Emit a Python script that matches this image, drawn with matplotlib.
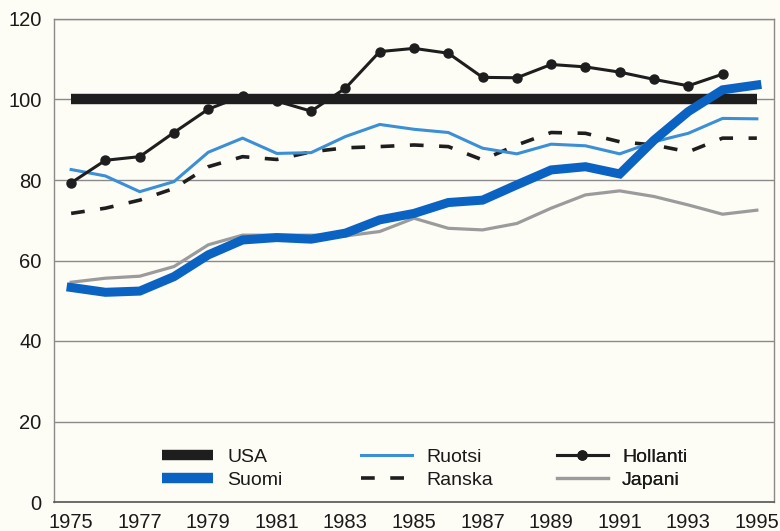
import matplotlib
matplotlib.use("Agg")
import matplotlib.pyplot as plt
from matplotlib.lines import Line2D

years = list(range(1975, 1996))
usa = [100] * 21
suomi = [53.3, 52.1, 52.4, 56.0, 61.4, 65.1, 65.7, 65.3, 66.8, 70.1, 71.7,
         74.4, 75.0, 78.8, 82.5, 83.3, 81.5, 89.9, 97.0, 102.4, 103.6]
ruotsi = [82.6, 81.0, 77.1, 79.6, 86.9, 90.4, 86.6, 86.8, 90.8, 93.8, 92.6,
          91.8, 87.9, 86.5, 88.9, 88.5, 86.5, 89.5, 91.6, 95.3, 95.2]
ranska = [71.7, 73.0, 75.0, 77.9, 83.3, 85.8, 85.1, 87.0, 88.0, 88.3, 88.7,
          88.3, 85.0, 88.7, 91.8, 91.6, 89.5, 88.7, 87.0, 90.4, 90.4]
hollanti_years = list(range(1975, 1995))
hollanti = [79.3, 84.9, 85.8, 91.8, 97.6, 100.9, 99.6, 97.1, 102.8, 111.9, 112.7,
            111.5, 105.5, 105.4, 108.7, 108.1, 106.8, 105.0, 103.4, 106.3]
japani = [54.6, 55.6, 56.1, 58.5, 63.9, 66.3, 66.3, 66.3, 66.1, 67.2, 70.5,
          68.0, 67.6, 69.2, 73.0, 76.3, 77.3, 75.9, 73.8, 71.5, 72.5]
xticks = list(range(1975, 1996, 2))
yticks = [0, 20, 40, 60, 80, 100, 120]

plt.rcParams['font.family'] = ['Liberation Sans', 'DejaVu Sans']
bg = '#fdfcf5'
fig = plt.figure(figsize=(7.8, 5.31), dpi=100, facecolor=bg)
ax = fig.add_axes([54/780, 1-502/531, 720/780, 483/531])
ax.set_facecolor(bg)

c_usa = '#1e1e1e'
c_suomi = '#0a62c2'
c_ruotsi = '#3a8fd6'
c_black = '#1e1e1e'
c_gray = '#9b9b9b'

ax.plot(years, japani, color=c_gray, lw=2.3, zorder=3)
ax.plot(years, usa, color=c_usa, lw=7.5, solid_capstyle='butt', zorder=4)
ax.plot(years, ranska, color=c_black, lw=2.6, dashes=(3.8, 4.3), zorder=5)
ax.plot(years, ruotsi, color=c_ruotsi, lw=2.2, zorder=5)
ax.plot(years, suomi, color=c_suomi, lw=6.5, solid_joinstyle='miter', zorder=6)
ax.plot(hollanti_years, hollanti, color=c_black, lw=2.2, marker='o', ms=6.5, zorder=7)

ax.set_xlim(1974.5, 1995.5)
ax.set_ylim(0, 120)
ax.set_xticks(xticks)
ax.set_yticks(yticks)
ax.tick_params(length=0, labelsize=14.5, colors='#1a1a1a')
ax.tick_params(axis='x', pad=8)
ax.tick_params(axis='y', pad=9)
ax.grid(axis='y', color='#8a8a8a', lw=1.0)
ax.set_axisbelow(True)
for s in ['left', 'top', 'right']:
    ax.spines[s].set_color('#8a8a8a')
    ax.spines[s].set_linewidth(1.0)
ax.spines['bottom'].set_color('#555555')
ax.spines['bottom'].set_linewidth(1.2)

def h(**kw):
    return Line2D([], [], **kw)

groups = [
    ([h(color=c_usa, lw=7.5, solid_capstyle='butt'), h(color=c_suomi, lw=7.5, solid_capstyle='butt')],
     ['USA', 'Suomi'], 162),
    ([h(color=c_ruotsi, lw=2.2), h(color=c_black, lw=2.6, dashes=(3.8, 4.3))],
     ['Ruotsi', 'Ranska'], 361),
    ([h(color=c_black, lw=2.2, marker='o', ms=6.5), h(color=c_gray, lw=2.3)],
     ['Hollanti', 'Japani'], 557),
]
for handles, labels, xpx in groups:
    leg = ax.legend(handles, labels, loc='upper left',
                    bbox_to_anchor=((xpx - 54) / 720, (502 - 448) / 483),
                    frameon=False, fontsize=14, handlelength=2.6, handletextpad=0.75,
                    labelspacing=0.28, borderpad=0, borderaxespad=0)
    for t in leg.get_texts():
        t.set_color('#1a1a1a')
    ax.add_artist(leg)

fig.savefig('out.png', dpi=100, facecolor=bg)
